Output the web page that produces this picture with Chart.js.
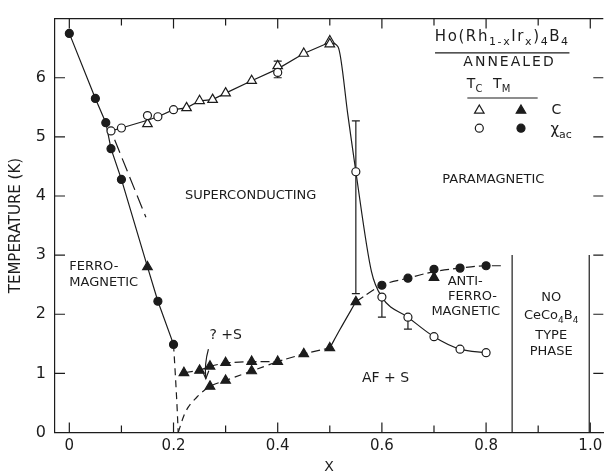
<!DOCTYPE html>
<html>
<head>
<meta charset="utf-8">
<script src="https://cdn.jsdelivr.net/npm/chart.js@4.4.3/dist/chart.umd.min.js"></script>
<style>
  html, body { margin:0; padding:0; background:#fff; }
  #wrap { width:610px; height:474px; position:relative; }
</style>
</head>
<body>
<div id="wrap"><canvas id="phase"></canvas></div>
<script>
/* Ho(Rh1-xIrx)4B4 annealed — phase diagram */

const INK = '#1c1c1c';
const FONT = '"DejaVu Sans", sans-serif';

/* ── measured points ── */
// T_M from chi_ac (filled circles)
const tmChiX = [0, 0.05, 0.07, 0.08, 0.10, 0.17, 0.20, 0.60, 0.65, 0.70, 0.75, 0.80];
const tmChiY = [6.75, 5.65, 5.24, 4.80, 4.28, 2.22, 1.49, 2.49, 2.61, 2.76, 2.78, 2.82];
// T_M from specific heat (filled triangles)
const tmCX = [0.15, 0.22, 0.25, 0.27, 0.30, 0.35, 0.40, 0.45, 0.50, 0.55, 0.27, 0.30, 0.35, 0.70];
const tmCY = [2.80, 1.01, 1.05, 1.12, 1.18, 1.20, 1.20, 1.33, 1.43, 2.21, 0.78, 0.88, 1.04, 2.62];
// Tc from chi_ac (open circles)
const tcChiX = [0.08, 0.10, 0.15, 0.17, 0.20, 0.40, 0.55, 0.60, 0.65, 0.70, 0.75, 0.80];
const tcChiY = [5.10, 5.15, 5.36, 5.34, 5.46, 6.09, 4.41, 2.29, 1.95, 1.62, 1.41, 1.35];
// Tc from specific heat (open triangles)
const tcCX = [0.15, 0.225, 0.25, 0.275, 0.30, 0.35, 0.40, 0.45, 0.50, 0.50];
const tcCY = [5.22, 5.49, 5.61, 5.63, 5.74, 5.95, 6.20, 6.41, 6.62, 6.57];

/* ── drawn phase boundaries ── */
const ferroX = [0, 0.05, 0.07, 0.08, 0.10, 0.15, 0.17, 0.20];
const ferroY = [6.75, 5.65, 5.24, 4.80, 4.28, 2.80, 2.22, 1.49];
const ferroTailX = [0.20, 0.204, 0.207, 0.209];
const ferroTailY = [1.49, 0.90, 0.40, 0];
const ferroDashX = [0.087, 0.147];
const ferroDashY = [4.95, 3.64];
const scX = [0.08, 0.10, 0.15, 0.17, 0.20, 0.225, 0.25, 0.275, 0.30, 0.35, 0.40, 0.45, 0.50];
const scY = [5.10, 5.15, 5.28, 5.34, 5.46, 5.49, 5.61, 5.63, 5.74, 5.95, 6.15, 6.41, 6.60];
const dropX = [0.50, 0.516, 0.535, 0.55, 0.58, 0.60, 0.65, 0.70, 0.75, 0.80];
const dropY = [6.60, 6.52, 5.35, 4.41, 2.72, 2.29, 1.95, 1.62, 1.41, 1.35];
const afLowX = [0.22, 0.25, 0.27, 0.30, 0.35, 0.40, 0.45, 0.50];
const afLowY = [1.01, 1.05, 1.12, 1.18, 1.20, 1.20, 1.33, 1.43];
const afRiseX = [0.50, 0.52, 0.55];
const afRiseY = [1.43, 1.75, 2.21];
const afHighX = [0.55, 0.60, 0.65, 0.70, 0.75, 0.80, 0.83];
const afHighY = [2.21, 2.49, 2.61, 2.72, 2.78, 2.82, 2.82];
const innerX = [0.209, 0.222, 0.245, 0.27, 0.30, 0.35, 0.40];
const innerY = [0, 0.33, 0.60, 0.78, 0.88, 1.04, 1.20];
const edge1X = [0.85, 0.85];
const edge1Y = [0, 3.0];
const edge2X = [0.998, 0.998];
const edge2Y = [0, 3.0];

/* ── error bars ── */
const errBars = [
  { x: 0.40, lo: 6.00, hi: 6.28, capLo: true, capHi: true },
  { x: 0.55, lo: 2.35, hi: 5.27, capLo: true, capHi: true },
  { x: 0.60, lo: 1.95, hi: 2.29, capLo: true, capHi: false },
  { x: 0.65, lo: 1.75, hi: 1.95, capLo: true, capHi: false },
  { x: 0.70, lo: 2.62, hi: 2.76, capLo: false, capHi: true },
];

/* ── ticks ── */
const xTickVals = [0, 0.1, 0.2, 0.3, 0.4, 0.5, 0.6, 0.7, 0.8, 0.9, 1.0];
const xLabelVals = [0, 0.2, 0.4, 0.6, 0.8, 1.0];
const yTickVals = [0, 1, 2, 3, 4, 5, 6, 7];

/* ── labels inside the frame (data coords) ── */
const notes = [
  { x: 0.348, y: 4.01, parts: [['SUPERCONDUCTING']] },
  { x: 0.814, y: 4.27, parts: [['PARAMAGNETIC']] },
  { x: 0.0,   y: 2.80, parts: [['FERRO-']], align: 'left' },
  { x: 0.0,   y: 2.54, parts: [['MAGNETIC']], align: 'left' },
  { x: 0.269, y: 1.64, parts: [['? +S']], align: 'left', size: 14 },
  { x: 0.607, y: 0.92, parts: [['AF + S']], size: 14 },
  { x: 0.760, y: 2.55, parts: [['ANTI-']] },
  { x: 0.774, y: 2.30, parts: [['FERRO-']] },
  { x: 0.761, y: 2.04, parts: [['MAGNETIC']] },
  { x: 0.925, y: 2.28, parts: [['NO']] },
  { x: 0.925, y: 1.97, parts: [['CeCo'], ['4', 1], ['B'], ['4', 1]] },
  { x: 0.925, y: 1.64, parts: [['TYPE']] },
  { x: 0.925, y: 1.36, parts: [['PHASE']] },
  // key
  { x: 0.831, y: 6.69, parts: [['Ho(Rh'], ['1-x', 1], ['Ir'], ['x', 1], [')'], ['4', 1], ['B'], ['4', 1]], size: 15, spacing: 1.6 },
  { x: 0.845, y: 6.255, parts: [['ANNEALED']], size: 14, spacing: 2 },
  { x: 0.778, y: 5.88, parts: [['T'], ['C', 1]], size: 14 },
  { x: 0.830, y: 5.88, parts: [['T'], ['M', 1]], size: 14 },
  { x: 0.935, y: 5.44, parts: [['C']], size: 14 },
  { x: 0.944, y: 5.11, parts: [['χ'], ['ac', 1]], size: 15 },
];
const keyRules = [
  { x0: 0.702, x1: 0.960, y: 6.42 },
  { x0: 0.764, x1: 0.899, y: 5.657 },
];
const keyMarks = [
  { x: 0.787, y: 5.447, style: 'triangle', open: true },
  { x: 0.867, y: 5.447, style: 'triangle', open: false },
  { x: 0.787, y: 5.146, style: 'circle', open: true },
  { x: 0.867, y: 5.146, style: 'circle', open: false },
];
// arrow pointing from "? +S" to the lower boundary
const arrowX = [0.267, 0.259, 0.262];
const arrowY = [1.41, 1.16, 0.91];

const pts = (xs, ys) => xs.map((x, i) => ({ x, y: ys[i] }));

function markers(label, xs, ys, style, open) {
  return {
    label, data: pts(xs, ys), showLine: false, order: 0,
    pointStyle: style, pointRadius: style === 'triangle' ? 5.5 : 4,
    pointBorderWidth: 1.2, pointBorderColor: INK,
    pointBackgroundColor: open ? '#fff' : INK,
  };
}
function curve(label, xs, ys, dash, smooth) {
  return {
    label, data: pts(xs, ys), showLine: true, order: 1,
    borderColor: INK, borderWidth: 1.2, borderDash: dash || [],
    pointRadius: 0, fill: false,
    cubicInterpolationMode: smooth ? 'monotone' : 'default', tension: 0,
  };
}

function drawRich(ctx, parts, x, y, size, align, spacing) {
  const f = sub => `${sub ? Math.round(size * 0.72) : size}px ${FONT}`;
  ctx.letterSpacing = (spacing || 0) + 'px';
  let w = 0;
  parts.forEach(([t, sub]) => { ctx.font = f(sub); w += ctx.measureText(t).width; });
  let cx = align === 'left' ? x : x - w / 2;
  ctx.textAlign = 'left';
  ctx.textBaseline = 'middle';
  parts.forEach(([t, sub]) => {
    ctx.font = f(sub);
    ctx.fillText(t, cx, sub ? y + size * 0.32 : y);
    cx += ctx.measureText(t).width;
  });
  ctx.letterSpacing = '0px';
}

/* ── plugin: frame, inward ticks, error bars, arrow, text ── */
const decor = {
  id: 'decor',
  beforeDraw(chart) {
    const { ctx } = chart;
    ctx.save();
    ctx.fillStyle = '#fff';
    ctx.fillRect(0, 0, chart.width, chart.height);
    ctx.restore();
  },
  beforeDatasetsDraw(chart) {
    const { ctx, scales: { x, y } } = chart;
    ctx.save();
    ctx.strokeStyle = INK;
    ctx.lineWidth = 1.2;
    errBars.forEach(b => {
      const px = x.getPixelForValue(b.x);
      const lo = y.getPixelForValue(b.lo), hi = y.getPixelForValue(b.hi);
      ctx.beginPath();
      ctx.moveTo(px, lo); ctx.lineTo(px, hi);
      if (b.capLo) { ctx.moveTo(px - 4, lo); ctx.lineTo(px + 4, lo); }
      if (b.capHi) { ctx.moveTo(px - 4, hi); ctx.lineTo(px + 4, hi); }
      ctx.stroke();
    });
    // arrow
    const ap = arrowX.map((v, i) => [x.getPixelForValue(v), y.getPixelForValue(arrowY[i])]);
    ctx.beginPath();
    ctx.moveTo(ap[0][0], ap[0][1]);
    ctx.quadraticCurveTo(ap[1][0], ap[1][1], ap[2][0], ap[2][1]);
    ctx.stroke();
    const [tx, ty] = ap[2];
    ctx.beginPath();
    ctx.moveTo(tx - 3.5, ty - 8); ctx.lineTo(tx, ty); ctx.lineTo(tx + 3, ty - 8);
    ctx.stroke();
    ctx.restore();
  },
  afterDraw(chart) {
    const { ctx, chartArea: a, scales: { x, y } } = chart;
    ctx.save();
    ctx.strokeStyle = INK;
    ctx.fillStyle = INK;
    ctx.lineWidth = 1.2;
    ctx.beginPath();
    // top border
    ctx.moveTo(a.left, a.top); ctx.lineTo(a.right, a.top);
    // x ticks, bottom and top, pointing in
    xTickVals.forEach(v => {
      const px = x.getPixelForValue(v);
      const len = xLabelVals.some(l => Math.abs(l - v) < 1e-9) ? 10 : 7;
      ctx.moveTo(px, a.bottom); ctx.lineTo(px, a.bottom - len);
      ctx.moveTo(px, a.top); ctx.lineTo(px, a.top + len);
    });
    // y ticks, left and right
    yTickVals.forEach(v => {
      const py = y.getPixelForValue(v);
      ctx.moveTo(a.left, py); ctx.lineTo(a.left + 10, py);
      ctx.moveTo(a.right, py); ctx.lineTo(a.right - 10, py);
    });
    keyRules.forEach(r => {
      const py = y.getPixelForValue(r.y);
      ctx.moveTo(x.getPixelForValue(r.x0), py); ctx.lineTo(x.getPixelForValue(r.x1), py);
    });
    ctx.stroke();

    keyMarks.forEach(m => {
      ctx.fillStyle = m.open ? '#fff' : INK;
      Chart.helpers.drawPoint(ctx, {
        pointStyle: m.style, radius: m.style === 'triangle' ? 5.5 : 4, borderWidth: 1.2, rotation: 0,
      }, x.getPixelForValue(m.x), y.getPixelForValue(m.y));
    });

    ctx.fillStyle = INK;
    notes.forEach(n => {
      drawRich(ctx, n.parts, x.getPixelForValue(n.x), y.getPixelForValue(n.y),
        n.size || 13, n.align, n.spacing);
    });
    ctx.restore();
  }
};

new Chart(document.getElementById('phase'), {
  type: 'scatter',
  data: {
    datasets: [
      markers('T_M (χac)', tmChiX, tmChiY, 'circle', false),
      markers('T_M (C)', tmCX, tmCY, 'triangle', false),
      markers('T_c (χac)', tcChiX, tcChiY, 'circle', true),
      markers('T_c (C)', tcCX, tcCY, 'triangle', true),
      curve('ferro', ferroX, ferroY),
      curve('ferro tail', ferroTailX, ferroTailY, [7, 5], true),
      curve('ferro dashed', ferroDashX, ferroDashY, [14, 6]),
      curve('Tc', scX, scY),
      curve('Tc drop', dropX, dropY, null, true),
      curve('AF low', afLowX, afLowY, [9, 4]),
      curve('AF rise', afRiseX, afRiseY, null, true),
      curve('AF high', afHighX, afHighY, [9, 4], true),
      curve('inner', innerX, innerY, [7, 5], true),
      curve('edge 0.85', edge1X, edge1Y),
      curve('edge 1.0', edge2X, edge2Y),
    ]
  },
  options: {
    responsive: true,
    maintainAspectRatio: false,
    animation: false,
    layout: { padding: { top: 13, right: 0, left: 0, bottom: 0 } },
    plugins: { legend: { display: false }, tooltip: { enabled: false } },
    scales: {
      x: {
        type: 'linear', min: -0.0275, max: 1.025,
        afterBuildTicks: s => { s.ticks = xTickVals.map(v => ({ value: v })); },
        afterFit: s => { s.height = 41.5; },
        grid: { display: false, drawTicks: false },
        border: { display: true, color: INK, width: 1.2 },
        ticks: {
          padding: 5, color: INK, font: { family: 'DejaVu Sans', size: 15 }, maxRotation: 0, autoSkip: false,
          callback: v => xLabelVals.some(l => Math.abs(l - v) < 1e-9) ? (v === 0 ? '0' : v.toFixed(1)) : ''
        },
        title: { display: true, text: 'X', color: INK, font: { family: 'DejaVu Sans', size: 14, lineHeight: 1 }, padding: { top: 0, bottom: 0 } }
      },
      y: {
        type: 'linear', min: 0, max: 7,
        afterBuildTicks: s => { s.ticks = yTickVals.map(v => ({ value: v })); },
        afterFit: s => { s.width = 55; },
        grid: { display: false, drawTicks: false },
        border: { display: true, color: INK, width: 1.2 },
        ticks: {
          padding: 9, color: INK, font: { family: 'DejaVu Sans', size: 16 },
          callback: v => v === 7 ? '' : String(v)
        },
        title: { display: true, text: 'TEMPERATURE (K)', color: INK, font: { family: 'DejaVu Sans', size: 15, lineHeight: 1 }, padding: { top: 9, bottom: 0 } }
      }
    }
  },
  plugins: [decor]
});
</script>
</body>
</html>
